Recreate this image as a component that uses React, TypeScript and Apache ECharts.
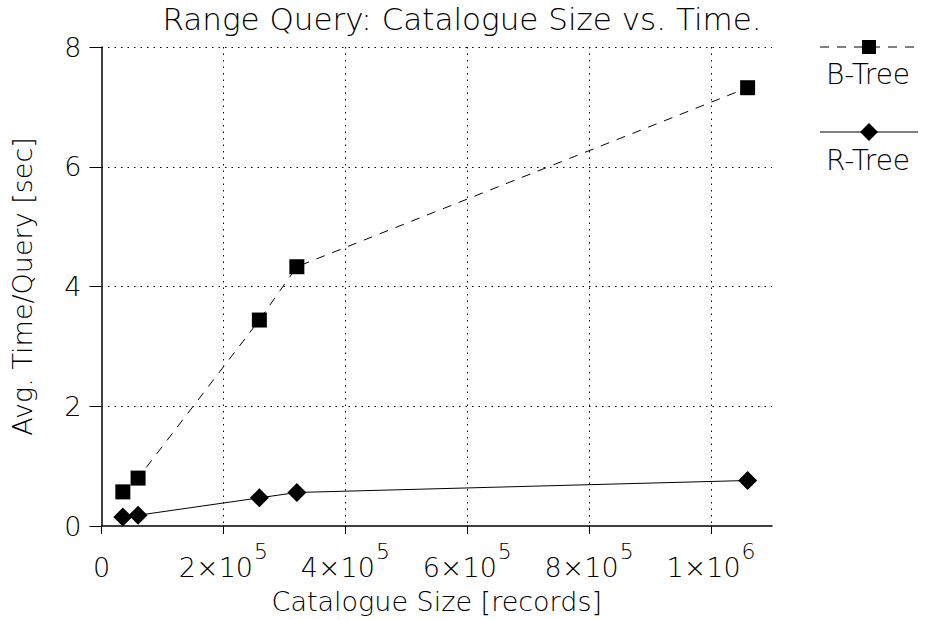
import React, { useEffect, useRef } from "react";
import * as echarts from "echarts";

const catalogueSizes = [35000, 60000, 259000, 320500, 1060000];
const bTreeTimes = [0.57, 0.8, 3.44, 4.33, 7.32];
const rTreeTimes = [0.15, 0.18, 0.47, 0.56, 0.76];
const xTicks = [0, 200000, 400000, 600000, 800000, 1000000];
const xTickLabels: Record<number, [string, string]> = {
  0: ["0", ""],
  200000: ["2×10", "5"],
  400000: ["4×10", "5"],
  600000: ["6×10", "5"],
  800000: ["8×10", "5"],
  1000000: ["1×10", "6"],
};
const yTicks = [0, 2, 4, 6, 8];

const FONT = "DejaVu Sans";
const W = 200;

export default function App() {
  const ref = useRef<HTMLDivElement>(null);
  useEffect(() => {
    if (!ref.current) return;
    const chart = echarts.init(ref.current, null, { renderer: "svg" });
    const bData = catalogueSizes.map((x, i) => [x, bTreeTimes[i]]);
    const rData = catalogueSizes.map((x, i) => [x, rTreeTimes[i]]);
    chart.setOption({
      animation: false,
      backgroundColor: "#fff",
      title: {
        text: "Range Query: Catalogue Size vs. Time.",
        left: 457,
        top: -2,
        textAlign: "center",
        textStyle: { fontFamily: FONT, fontSize: 31, fontWeight: W, color: "#000" },
      },
      grid: { left: 101.5, top: 47, right: 154, bottom: 94, containLabel: false },
      xAxis: {
        type: "value",
        min: 0,
        max: 1100000,
        interval: 200000,
        name: "Catalogue Size [records]",
        nameLocation: "middle",
        nameGap: 62,
        nameTextStyle: { fontFamily: FONT, fontSize: 27, fontWeight: W, color: "#000", verticalAlign: "top" },
        axisLine: { show: true, lineStyle: { color: "#000", width: 1.5 } },
        axisTick: { show: true, length: 8, inside: false, customValues: xTicks, lineStyle: { color: "#000" } },
        axisLabel: {
          customValues: xTicks,
          margin: 10,
          formatter: (v: number) => {
            const t = xTickLabels[v];
            if (!t) return "";
            return t[1] ? `{a|${t[0]}}{s|${t[1]}}` : `{a|${t[0]}}`;
          },
          rich: {
            a: { fontFamily: FONT, fontSize: 27, fontWeight: W, color: "#000", padding: [18, 0, 0, 0] },
            s: { fontFamily: FONT, fontSize: 22, fontWeight: W, color: "#000", padding: [0, 0, 14, 1] },
          },
        },
        splitLine: {
          show: true,
          showMinLine: false,
          showMaxLine: true,
          lineStyle: { color: "#000", type: [1.5, 5], width: 1 },
        },
      },
      yAxis: {
        type: "value",
        min: 0,
        max: 8,
        interval: 2,
        name: "Avg. Time/Query [sec]",
        nameLocation: "middle",
        nameGap: 66,
        nameTextStyle: { fontFamily: FONT, fontSize: 27, fontWeight: W, color: "#000" },
        axisLine: { show: true, lineStyle: { color: "#000", width: 1.5 } },
        axisTick: { show: true, length: 12, inside: false, customValues: yTicks, lineStyle: { color: "#000" } },
        axisLabel: {
          margin: 20,
          fontFamily: FONT,
          fontSize: 27,
          fontWeight: W,
          color: "#000",
        },
        splitLine: {
          show: true,
          showMinLine: false,
          showMaxLine: true,
          lineStyle: { color: "#000", type: [1.5, 5], width: 1 },
        },
      },
      series: [
        {
          name: "B-Tree",
          type: "line",
          data: bData,
          symbol: "rect",
          symbolSize: 15,
          itemStyle: { color: "#000" },
          lineStyle: { color: "#000", width: 1, type: [9, 8] },
          z: 3,
        },
        {
          name: "R-Tree",
          type: "line",
          data: rData,
          symbol: "diamond",
          symbolSize: 19,
          itemStyle: { color: "#000" },
          lineStyle: { color: "#000", width: 1, type: "solid" },
          z: 3,
        },
      ],
      graphic: [
        {
          type: "line",
          shape: { x1: 820, y1: 47, x2: 918, y2: 47 },
          style: { stroke: "#000", lineWidth: 1, lineDash: [9, 8] },
        },
        { type: "rect", shape: { x: 862, y: 40, width: 14, height: 14 }, style: { fill: "#000" } },
        {
          type: "text",
          x: 868,
          y: 74,
          style: {
            text: "B-Tree",
            fontFamily: FONT,
            fontSize: 28,
            fontWeight: W,
            fill: "#000",
            align: "center",
            verticalAlign: "middle",
          },
        },
        {
          type: "line",
          shape: { x1: 820, y1: 132, x2: 918, y2: 132 },
          style: { stroke: "#000", lineWidth: 1 },
        },
        {
          type: "polygon",
          shape: { points: [[869, 123], [878, 132], [869, 141], [860, 132]] },
          style: { fill: "#000" },
        },
        {
          type: "text",
          x: 868,
          y: 160,
          style: {
            text: "R-Tree",
            fontFamily: FONT,
            fontSize: 28,
            fontWeight: W,
            fill: "#000",
            align: "center",
            verticalAlign: "middle",
          },
        },
      ],
    });
    return () => chart.dispose();
  }, []);
  return <div ref={ref} style={{ width: 926, height: 620, position: "absolute", left: 0, top: 0 }} />;
}
